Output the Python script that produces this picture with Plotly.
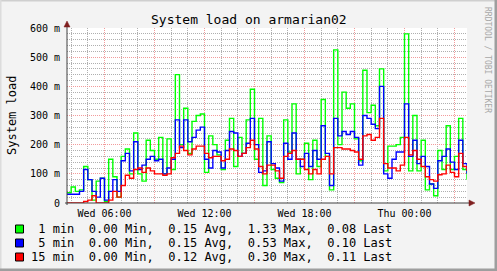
import plotly.graph_objects as go
import pandas as pd

# ---------------- data ----------------
title_text = "System load on armarian02"
y_title = "System load"
watermark = "RRDTOOL / TOBI OETIKER"

series_names = ["1 min", "5 min", "15 min"]
series_colors = ["#00FF00", "#0000FF", "#FF0000"]
stat_min = ["0.00", "0.00", "0.00"]
stat_avg = ["0.15", "0.15", "0.12"]
stat_max = ["1.33", "0.53", "0.30"]
stat_last = ["0.08", "0.10", "0.11"]

start_time = "2009-03-04 03:45"   # a Wednesday
step = "15min"

# system load in milli-units (m), one value per 15 minutes
load_1min = [35, 55, 40, 45, 125, 80, 10, 75, 85, 5, 150, 90, 20, 160, 185, 100, 240,
             100, 75, 215, 180, 150, 225, 100, 220, 115, 440, 200, 325, 170, 280, 300, 305,
             105, 230, 200, 165, 115, 215, 290, 125, 225, 170, 285, 390, 150, 290, 60, 230,
             115, 85, 70, 285, 175, 340, 100, 150, 205, 80, 215, 125, 355, 160, 45, 525, 200,
             380, 325, 340, 220, 145, 455, 310, 335, 265, 460, 110, 195, 195, 200, 225, 580,
             110, 300, 110, 215, 45, 65, 25, 180, 115, 265, 115, 160, 290, 115, 80]
load_5min = [30, 30, 30, 40, 115, 80, 40, 20, 85, 10, 40, 80, 40, 145, 170, 110, 210,
             115, 130, 150, 160, 145, 150, 100, 120, 150, 285, 190, 285, 210, 225, 250, 260,
             150, 120, 180, 175, 120, 180, 245, 240, 160, 170, 205, 290, 200, 105, 110, 210,
             135, 120, 75, 205, 150, 240, 150, 125, 170, 125, 180, 150, 265, 170, 60, 290, 230,
             245, 235, 245, 225, 130, 300, 290, 270, 255, 400, 100, 85, 150, 175, 175, 340,
             160, 215, 135, 160, 125, 65, 50, 145, 160, 185, 140, 115, 215, 135, 100]
load_15min = [0, 0, 0, 0, 5, 10, 25, 0, 0, 0, 10, 40, 20, 60, 95, 85, 115,
              120, 105, 120, 110, 100, 100, 95, 100, 155, 170, 195, 180, 165, 185, 195, 195,
              170, 155, 160, 160, 145, 150, 185, 180, 160, 170, 190, 215, 185, 125, 100, 130,
              130, 110, 85, 160, 170, 180, 150, 150, 115, 100, 115, 100, 150, 160, 100, 190, 190,
              185, 185, 180, 175, 150, 230, 235, 215, 225, 290, 135, 120, 120, 110, 130, 225,
              165, 180, 150, 125, 90, 80, 75, 97, 100, 130, 105, 90, 170, 125, 110]
series_values = [load_1min, load_5min, load_15min]

x_tick_vals = ["2009-03-04 06:00", "2009-03-04 09:00", "2009-03-04 12:00", "2009-03-04 15:00",
               "2009-03-04 18:00", "2009-03-04 21:00", "2009-03-05 00:00", "2009-03-05 03:00"]
x_tick_text = ["Wed 06:00", "", "Wed 12:00", "", "Wed 18:00", "", "Thu 00:00", ""]
y_tick_vals = [0, 100, 200, 300, 400, 500, 600]
y_tick_text = ["0", "100 m", "200 m", "300 m", "400 m", "500 m", "600 m"]

times = pd.date_range(start_time, periods=len(load_1min), freq=step)
x_range = [times[0], times[0] + pd.Timedelta(hours=24)]

# ---------------- figure ----------------
W, H = 497, 271
L, R, T, B = 67, 30, 28, 68
PW, PH = W - L - R, H - T - B


def px(x):
    return (x - L) / PW


def py(y):
    return (H - B - y) / PH


MONO = "DejaVu Sans Mono"
MINOR = "rgb(175,175,175)"
MAJOR = "rgb(242,155,155)"

fig = go.Figure()
for name, color, vals in zip(series_names, series_colors, series_values):
    fig.add_trace(go.Scatter(x=times, y=vals, mode="lines", name=name,
                             line=dict(color=color, width=1.4, shape="hv"),
                             showlegend=False, hoverinfo="skip"))

fig.update_layout(
    width=W, height=H,
    margin=dict(l=L, r=R, t=T, b=B, pad=0),
    paper_bgcolor="#F3F3F3",
    plot_bgcolor="#FFFFFF",
    font=dict(family=MONO, size=10, color="#000000"),
    showlegend=False,
)

fig.update_xaxes(
    type="date", range=x_range,
    tickmode="array", tickvals=x_tick_vals, ticktext=x_tick_text,
    ticks="", ticklabelstandoff=3,
    showgrid=True, gridcolor=MAJOR, griddash="1px,1px", gridwidth=1,
    minor=dict(tickmode="linear", tick0="2009-03-04 04:00", dtick=3600000,
               showgrid=True, gridcolor=MINOR, griddash="1px,1px", gridwidth=1, ticks=""),
    showline=False, zeroline=False,
    tickfont=dict(family=MONO, size=10, color="#000000"),
)
fig.update_yaxes(
    range=[0, 600],
    tickmode="array", tickvals=y_tick_vals, ticktext=y_tick_text,
    ticks="", ticklabelstandoff=6,
    showgrid=True, gridcolor=MAJOR, griddash="1px,1px", gridwidth=1,
    minor=dict(tickmode="linear", tick0=0, dtick=20,
               showgrid=True, gridcolor=MINOR, griddash="1px,1px", gridwidth=1, ticks=""),
    showline=False, zeroline=False,
    tickfont=dict(family=MONO, size=10, color="#000000"),
)

shapes = []
AX = "#404040"
ARROW = "#7F1F1F"
# axes
shapes.append(dict(type="line", xref="paper", yref="paper", x0=0, x1=0, y0=py(205), y1=py(26),
                   line=dict(color=AX, width=1)))
shapes.append(dict(type="line", xref="paper", yref="paper", x0=px(65), x1=px(470), y0=0, y1=0,
                   line=dict(color=AX, width=1)))
# arrows
shapes.append(dict(type="path", xref="paper", yref="paper",
                   path=f"M {px(64)},{py(27)} L {px(70)},{py(27)} L {px(67)},{py(21)} Z",
                   fillcolor=ARROW, line=dict(color=ARROW, width=0.5)))
shapes.append(dict(type="path", xref="paper", yref="paper",
                   path=f"M {px(469)},{py(200)} L {px(469)},{py(206)} L {px(475)},{py(203)} Z",
                   fillcolor=ARROW, line=dict(color=ARROW, width=0.5)))
# frame
shapes.append(dict(type="rect", xref="paper", yref="paper", x0=px(0), x1=px(497), y0=py(0), y1=py(1.5),
                   fillcolor="#CFCFCF", line=dict(width=0)))
shapes.append(dict(type="rect", xref="paper", yref="paper", x0=px(0), x1=px(1.5), y0=py(0), y1=py(271),
                   fillcolor="#DCDCDC", line=dict(width=0)))
shapes.append(dict(type="rect", xref="paper", yref="paper", x0=px(494.5), x1=px(497), y0=py(0), y1=py(271),
                   fillcolor="#9E9E9E", line=dict(width=0)))
shapes.append(dict(type="rect", xref="paper", yref="paper", x0=px(0), x1=px(497), y0=py(268.5), y1=py(271),
                   fillcolor="#9E9E9E", line=dict(width=0)))

annotations = []
# title
annotations.append(dict(text=title_text, xref="paper", yref="paper", x=px(248.5), y=py(19),
                        xanchor="center", yanchor="middle", showarrow=False,
                        font=dict(family=MONO, size=13, color="#000000")))
# y-axis title
annotations.append(dict(text=y_title, xref="paper", yref="paper", x=px(12), y=py(115),
                        xanchor="center", yanchor="middle", textangle=-90, showarrow=False,
                        font=dict(family=MONO, size=12, color="#000000")))
# watermark
annotations.append(dict(text=watermark, xref="paper", yref="paper", x=px(488), y=py(60),
                        xanchor="center", yanchor="middle", textangle=90, showarrow=False,
                        font=dict(family=MONO, size=8, color="#A8A8A8")))

# legend rows
for i, (name, color) in enumerate(zip(series_names, series_colors)):
    yc = 229 + 14 * i
    shapes.append(dict(type="rect", xref="paper", yref="paper",
                       x0=px(15.5), x1=px(23.5), y0=py(yc + 4), y1=py(yc - 4),
                       fillcolor=color, line=dict(color="#000000", width=1)))
    label = f"{name:>6}  {stat_min[i]} Min,  {stat_avg[i]} Avg,  {stat_max[i]} Max,  {stat_last[i]} Last"
    annotations.append(dict(text=label.replace(" ", "\u00a0"), xref="paper", yref="paper",
                            x=px(29), y=py(yc), xanchor="left", yanchor="middle", showarrow=False,
                            font=dict(family=MONO, size=12, color="#000000")))

fig.update_layout(shapes=shapes, annotations=annotations)
fig.write_html("out.html")
